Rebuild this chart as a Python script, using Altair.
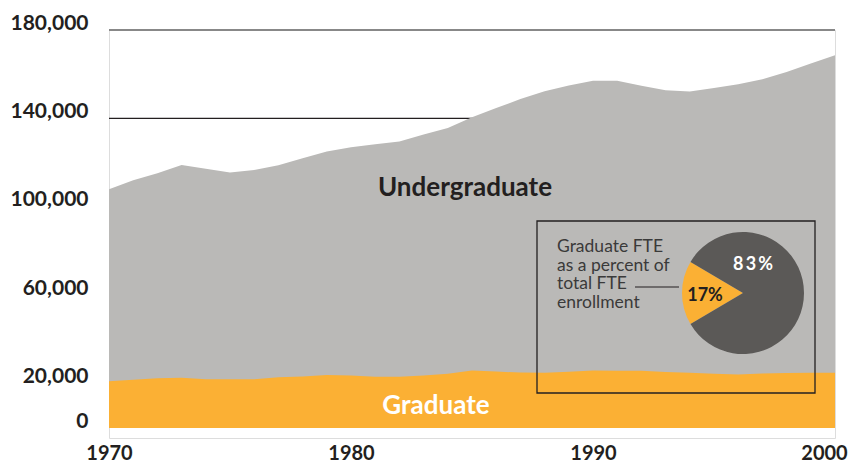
import math
import altair as alt
import pandas as pd

# ---- data ----
YEARS = list(range(1970, 2001))
GRADUATE = [21200, 21800, 22500, 22700, 22000, 22000, 22000, 23000, 23300, 24000,
            23700, 23200, 23200, 23800, 24500, 26000, 25500, 25100, 25000, 25400,
            26000, 25900, 25900, 25300, 25000, 24500, 24200, 24700, 24900, 25000,
            25000]
UNDERGRADUATE = [86800, 90200, 92700, 96300, 95300, 93500, 94700, 95800, 98700, 101000,
                 103300, 105100, 106400, 108900, 111200, 114500, 119200, 123700, 127300, 129500,
                 131000, 131100, 128900, 127400, 127200, 129300, 131300, 133000, 136100, 139800,
                 143600]
Y_TICKS = [0, 20000, 60000, 100000, 140000, 180000]
X_TICKS = [1970, 1980, 1990, 2000]
GRID_DARK = [100000, 140000]
GRID_LIGHT = [180000]
PIE_PARTS = ["Graduate", "Undergraduate"]
PIE_SHARES = [17, 83]
PIE_LABELS = ["17%", "8\u20093\u2009%"]

ORANGE = "#FBB034"
GRAY = "#BAB9B7"
DARK = "#5B5957"
INK = "#231F20"
FONT = "Lato"

W, H = 726, 408

df = pd.DataFrame({"year": YEARS, "grad": GRADUATE, "under": UNDERGRADUATE})
df["total"] = df["grad"] + df["under"]

yscale = alt.Scale(domain=[-4520, 180000], nice=False, zero=False)
xscale = alt.Scale(domain=[1970, 2000], nice=False, zero=False)

xaxis = alt.Axis(values=X_TICKS, format="d", title=None, grid=False, ticks=False,
                 domain=False, labelFont=FONT, labelFontWeight="bold", labelFontSize=20,
                 labelColor=INK, labelPadding=5, labelFlush=False,
                 labelOffset={"condition": {"test": "datum.value == 2000", "value": -11}, "value": 0})
yaxis = alt.Axis(values=Y_TICKS, format=",d", title=None, grid=False, ticks=False,
                 domain=False, labelFont=FONT, labelFontWeight="bold", labelFontSize=21,
                 labelColor=INK, labelPadding=21, labelOffset=-7)

grid_dark = alt.Chart(pd.DataFrame({"v": GRID_DARK})).mark_rule(
    color=INK, strokeWidth=1.2).encode(y=alt.Y("v:Q", scale=yscale, axis=yaxis))
grid_light = alt.Chart(pd.DataFrame({"v": GRID_LIGHT})).mark_rule(
    color="#888888", strokeWidth=2).encode(y=alt.Y("v:Q", scale=yscale, axis=yaxis))

under_area = alt.Chart(df).mark_area(color=GRAY, opacity=1).encode(
    x=alt.X("year:Q", scale=xscale, axis=xaxis),
    y=alt.Y("total:Q", scale=yscale, axis=yaxis),
    y2=alt.value(H),
)
grad_area = alt.Chart(df).mark_area(color=ORANGE, opacity=1).encode(
    x=alt.X("year:Q", scale=xscale, axis=xaxis),
    y=alt.Y("grad:Q", scale=yscale, axis=yaxis),
    y2=alt.value(H),
)

under_label = alt.Chart(pd.DataFrame({"t": ["Undergraduate"]})).mark_text(
    font=FONT, fontWeight="bold", fontSize=26, color=INK, align="center", baseline="middle"
).encode(text="t:N", x=alt.value(356), y=alt.value(158))
grad_label = alt.Chart(pd.DataFrame({"t": ["Graduate"]})).mark_text(
    font=FONT, fontWeight="bold", fontSize=26, color="white", align="center", baseline="middle"
).encode(text="t:N", x=alt.value(327), y=alt.value(376))

box = alt.Chart(pd.DataFrame({"t": [0]})).mark_rect(
    fill=None, stroke=INK, strokeWidth=1.3, fillOpacity=0
).encode(x=alt.value(428), x2=alt.value(706), y=alt.value(191), y2=alt.value(363))

inset_text = alt.Chart(pd.DataFrame({"t": ["Graduate FTE\nas a percent of\ntotal FTE\nenrollment"]})).mark_text(
    font=FONT, fontSize=17.5, color="#3a3a3a", align="left", baseline="middle",
    lineBreak="\n", lineHeight=18.7
).encode(text="t:N", x=alt.value(448), y=alt.value(217))

leader = alt.Chart(pd.DataFrame({"t": [0]})).mark_rule(color=INK, strokeWidth=1.2).encode(
    x=alt.value(526), x2=alt.value(570), y=alt.value(257))

start = 1.5 * math.pi - PIE_SHARES[0] / 100 * math.pi
pie_df = pd.DataFrame({"part": PIE_PARTS, "share": PIE_SHARES, "idx": [0, 1]})
pie = alt.Chart(pie_df).mark_arc(radius=61).encode(
    theta=alt.Theta("share:Q", stack=True, scale=alt.Scale(range=[start, start + 2 * math.pi])),
    color=alt.Color("part:N", scale=alt.Scale(domain=PIE_PARTS, range=[ORANGE, DARK]), legend=None),
    order=alt.Order("idx:Q"),
    x=alt.value(634), y=alt.value(263),
)

lab17 = alt.Chart(pd.DataFrame({"t": [PIE_LABELS[0]]})).mark_text(
    font=FONT, fontWeight="bold", fontSize=18, color=INK, align="center", baseline="middle"
).encode(text="t:N", x=alt.value(596), y=alt.value(266))
lab83 = alt.Chart(pd.DataFrame({"t": [PIE_LABELS[1]]})).mark_text(
    font=FONT, fontWeight="bold", fontSize=18, color="white", align="center", baseline="middle"
).encode(text="t:N", x=alt.value(644), y=alt.value(235))

chart = alt.layer(
    grid_dark, grid_light, under_area, grad_area, under_label, grad_label,
    box, inset_text, leader, pie, lab17, lab83
).properties(
    width=W, height=H,
    autosize=alt.AutoSizeParams(type="none"),
    padding={"left": 101, "top": 22, "right": 19, "bottom": 30},
).configure_view(stroke=None).configure(background="white")

chart.save("out.html", embed_options={"renderer": "svg", "actions": False})
